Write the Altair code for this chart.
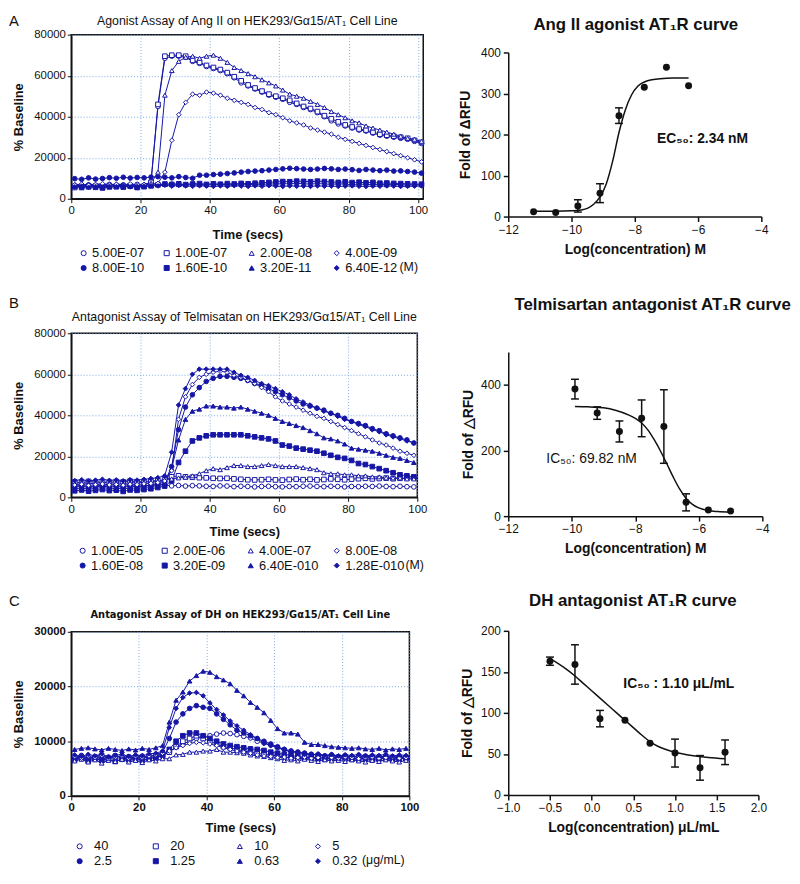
import altair as alt
import pandas as pd

FONT = "Liberation Sans"
WIDE = "DejaVu Sans"
BLUE = "#1616a6"
GRID = "#7aaae6"
BLACK = "#111111"

SHAPES = ["circle", "square", "triangle-up", "diamond"] * 2
FILLS = ["#ffffff"] * 4 + [BLUE] * 4

# ---------------- Panel A (left): agonist Ang II time courses ----------------
A_TIME = list(range(1, 102, 2))
A_LABELS = ["5.00E-07", "1.00E-07", "2.00E-08", "4.00E-09",
            "8.00E-10", "1.60E-10", "3.20E-11", "6.40E-12"]
A_5E07 = [6500, 6000, 6800, 6200, 6500, 7000, 6300, 6800, 6500, 7000, 6600, 8500,
          45000, 68500, 69500, 69500, 69000, 67000, 66000, 64500, 63500, 62500,
          61000, 59000, 56500, 55000, 53500, 52000, 50500, 49500, 48500, 47000,
          46000, 44500, 43500, 42000, 40000, 38000, 36500, 35500, 34500, 33500,
          33000, 32000, 31000, 30500, 30000, 29500, 29000, 28000, 27000]
A_1E07 = [5500, 6000, 5800, 6200, 5600, 6300, 5900, 6100, 6400, 5800, 6200, 8000,
          46000, 69500, 70000, 70000, 69500, 67500, 66500, 65000, 64000, 63000,
          61500, 59500, 57500, 55500, 54000, 52500, 51000, 50000, 49000, 48000,
          46500, 45000, 44000, 42500, 40500, 39000, 37500, 36000, 35000, 34000,
          33500, 32500, 31500, 31000, 30500, 30000, 29500, 28500, 27500]
A_2E08 = [7000, 6500, 7200, 6800, 7000, 6600, 7300, 6900, 7100, 6700, 7000, 7500,
          13000, 50500, 62500, 67000, 69000, 69500, 68500, 69500, 70000, 68500,
          66500, 64000, 62500, 61000, 59500, 58000, 56500, 55000, 53000, 51000,
          50000, 49000, 47500, 46000, 44500, 42500, 41000, 39500, 38000, 37000,
          35500, 34500, 33500, 32500, 31500, 30500, 29500, 29000, 28000]
A_4E09 = [6800, 7200, 6600, 7000, 7400, 6900, 7100, 6700, 7300, 6800, 7000, 7200, 7500,
          13000, 28500, 41000, 47000, 51000, 50500, 52000, 51500, 50500, 49000,
          48000, 47000, 46000, 44500, 43500, 42000, 41000, 39500, 38000, 37000,
          36000, 34500, 33500, 32500, 31500, 30000, 29000, 28000, 27000, 26000,
          25000, 24000, 23000, 22000, 21000, 20000, 19000, 18000]
A_8E10 = [9800, 9500, 10200, 9600, 9900, 10300, 10000, 10500, 10100, 10400, 10200, 10600,
          10800, 10500, 10200, 10800, 10400, 10000, 11500, 11500, 11800, 12000,
          12300, 12600, 13000, 13300, 13500, 13700, 14000, 14300, 14600, 14900,
          14700, 14500, 14300, 14500, 14800, 14600, 14300, 14500, 14200, 13800,
          14300, 14000, 13700, 14000, 13500, 13600, 13300, 13000, 12500]
A_16E10 = [6000, 5500, 6200, 5600, 5300, 5800, 6000, 5700, 6200, 5500, 5900, 6300,
           6800, 7200, 7000, 7300, 6900, 7200, 7400, 7000, 7300, 7100, 7400, 7200, 7500,
           7300, 7600, 7800, 8000, 8200, 8400, 8300, 8600, 8500, 8300, 8600, 8400, 8200,
           8000, 8300, 7900, 8100, 7800, 8000, 7600, 7700, 7500, 7400, 7300, 7200, 7100]
A_32E11 = [6800, 6300, 7000, 6500, 6200, 6700, 6900, 6400, 6800, 6300, 6600, 7000,
           7200, 7000, 7400, 6900, 7100, 7300, 6900, 7200, 7000, 7100, 6800, 7000, 7200,
           6900, 7100, 7000, 7300, 7100, 7400, 7200, 7500, 7300, 7100, 7400, 7200, 7000,
           7300, 7100, 6900, 7200, 7000, 6900, 7100, 6800, 7000, 6900, 6700, 6900, 6800]
A_64E12 = [5800, 6200, 5600, 6000, 5700, 6100, 5900, 6300, 5800, 6000, 6200, 6400,
           6300, 6600, 6200, 6500, 6300, 6100, 6400, 6200, 6000, 6300, 6100, 6400, 6200,
           6000, 6300, 6100, 6400, 6200, 6000, 6300, 6100, 6200, 6000, 6300, 6100, 6200,
           6000, 6200, 6300, 6100, 6000, 6200, 6100, 6300, 6200, 6000, 6100, 6200, 6300]

# ---------------- Panel B (left): Telmisartan antagonist time courses ----------------
BC_TIME = list(range(1, 100, 2))
B_LABELS = ["1.00E-05", "2.00E-06", "4.00E-07", "8.00E-08",
            "1.60E-08", "3.20E-09", "6.40E-010", "1.28E-010"]
B_1E05 = [5500, 5800, 5200, 5600, 5900, 5400, 5700, 5300, 5800, 5500, 5600, 5900, 6200, 6000,
          5600, 5800, 5500, 5700, 5600, 5400, 5300, 5600, 5500, 5200, 5400, 5300,
          5100, 5300, 5400, 5200, 5100, 5300, 5200, 5400, 5500, 5300, 5200, 5400,
          5300, 5100, 5300, 5200, 5400, 5300, 5500, 5300, 5200, 5400, 5200, 5100]
B_2E06 = [7500, 7200, 7800, 7400, 7600, 7300, 7700, 7500, 7900, 7600, 7800, 8000, 8200, 8500,
          10000, 10500, 10000, 9800, 9600, 9500, 9300, 9200, 9300, 9000, 8800, 8600,
          8500, 8600, 8800, 8500, 8400, 8700, 8900, 8600, 8800, 8500, 8700, 9000,
          8800, 8600, 8900, 9100, 9300, 9000, 9200, 9400, 9100, 9300, 9400, 9500]
B_4E07 = [6800, 7200, 6600, 7000, 7300, 6900, 7100, 6700, 7200, 7000, 7400, 7600, 8000, 8500,
          9000, 9500, 9800, 10500, 11500, 13000, 14000, 13500, 14500, 15500,
          15500, 15000, 15000, 15500, 16000, 15500, 15000, 15000, 15000, 14500,
          14000, 13500, 12000, 11500, 11500, 11000, 11000, 10500, 10500, 10000,
          10000, 9500, 9500, 9500, 9000, 9000]
B_8E08 = [6000, 6400, 5800, 6200, 6500, 6100, 6300, 5900, 6400, 6200, 6600, 6800, 7200, 8000,
          13000, 38000, 49000, 55000, 58500, 60000, 61000, 61500, 61000, 59500,
          58500, 57000, 55500, 53500, 51500, 49000, 47000, 45500, 44000, 42500,
          41000, 39500, 38500, 37000, 35500, 34000, 32500, 31000, 29500, 28000,
          26500, 25500, 24000, 22500, 21500, 20500]
B_16E08 = [5000, 5400, 4800, 5200, 5500, 5000, 5300, 4900, 5400, 5100, 5600, 5800, 6500, 7500,
           15000, 33000, 44000, 50000, 53500, 56500, 58000, 59000, 59000, 58500,
           58000, 57000, 55500, 54500, 53000, 51500, 50000, 48500, 47000, 45500,
           44500, 43500, 42500, 41000, 40000, 38500, 37000, 36000, 35000, 33500,
           32500, 31000, 30000, 29000, 28000, 26500]
B_32E09 = [3200, 3600, 3000, 3400, 3800, 3300, 3500, 2900, 3600, 3400, 3800, 4200, 4800, 5500,
           8000, 17000, 22500, 27500, 29000, 30000, 30500, 30500, 30500, 30500,
           30500, 30000, 29500, 29000, 28500, 27500, 25500, 25000, 24000, 23500,
           23000, 22500, 21500, 20500, 19500, 19000, 18000, 16500, 16000, 15000,
           14000, 13000, 12000, 11000, 10500, 10000]
B_64E10 = [4200, 4600, 4000, 4400, 4800, 4300, 4500, 4100, 4600, 4400, 4800, 5200, 5800, 6500,
           14000, 28000, 38000, 42000, 43000, 44500, 44500, 44000, 44000, 43500,
           44000, 43000, 42000, 41000, 40000, 38500, 37000, 36000, 35000, 34000,
           32500, 31000, 29000, 28500, 27500, 26000, 24000, 23500, 23000, 22500,
           21500, 20500, 19500, 19000, 18000, 17000]
B_128E10 = [8200, 8600, 8000, 8400, 8800, 8300, 8500, 8100, 8600, 8400, 8800, 9200, 9600, 10500,
            22000, 45000, 53000, 60000, 62500, 62500, 62500, 62500, 62500, 61000,
            59500, 58500, 57000, 55500, 54500, 53000, 51500, 50000, 48000, 46500,
            45000, 43500, 42000, 41000, 39500, 38000, 37000, 35500, 34500, 33000,
            32000, 30500, 29500, 28500, 27500, 26500]

# ---------------- Panel C (left): DH antagonist time courses ----------------
C_LABELS = ["40", "20", "10", "5", "2.5", "1.25", "0.63", "0.32"]
C_40 = [7000, 7400, 6800, 7200, 7500, 6900, 7300, 7100, 6700, 7200, 7000, 7400, 7300, 7600,
        8000, 9000, 9500, 10000, 10500, 10800, 11000, 11300, 11500, 11400,
        11200, 10900, 10600, 10000, 9700, 9300, 8800, 8500, 8200, 8000,
        7800, 7600, 7500, 7300, 7500, 7200, 7400, 7100, 7300, 7000,
        7200, 7100, 7300, 7000, 7200, 7100]
C_20 = [6800, 7100, 6600, 7000, 6500, 6900, 7200, 6700, 7000, 6600, 6900, 7100, 7000, 7400,
        8000, 9000, 10000, 10500, 11000, 10500, 10000, 9500, 9000, 8800,
        8500, 8200, 8000, 7800, 7600, 7500, 7300, 7100, 7000, 6800,
        6900, 7000, 6800, 6700, 6900, 7000, 6800, 6700, 6900, 6800,
        6600, 6800, 6900, 6700, 6800, 6900]
C_10 = [6400, 6700, 6200, 6600, 6000, 6500, 6300, 6700, 6200, 6500, 6100, 6600, 6400, 6800,
        6800, 7500, 7600, 8000, 8000, 8200, 8200, 8500, 8000, 8000,
        7900, 7800, 7500, 7300, 7200, 7000, 6800, 6500, 6600, 6400,
        6700, 6500, 6300, 6600, 6400, 6500, 6300, 6600, 6400, 6200,
        6500, 6300, 6600, 6400, 6200, 6500]
C_5 = [7200, 6900, 7300, 7000, 7400, 6800, 7100, 7300, 6900, 7200, 7000, 7300, 7500, 7800,
       8200, 8800, 9200, 9600, 9800, 9700, 9500, 9200, 8800, 8500,
       8200, 8000, 7800, 7500, 7300, 7200, 7000, 7100, 6900, 7000,
       7100, 6900, 7000, 7200, 7000, 6900, 7100, 7000, 6800, 7000,
       7100, 6900, 7000, 7100, 6900, 7000]
C_25 = [7000, 7300, 6900, 7200, 6800, 7100, 7400, 7000, 7200, 6900, 7300, 7100, 7500, 8000,
        10500, 13500, 15000, 16000, 16500, 16200, 16000, 15000, 14000, 13000,
        12000, 11500, 11000, 10500, 10000, 9500, 9000, 8500, 8200, 8000,
        7800, 7600, 7500, 7300, 7400, 7200, 7300, 7100, 7200, 7300,
        7100, 7200, 7000, 7200, 7100, 7000]
C_125 = [6600, 6900, 6400, 6800, 6500, 6700, 6300, 6800, 6600, 6900, 6500, 6800, 7000, 7400,
         8500, 10000, 11000, 11500, 11500, 11000, 10500, 10000, 9500, 9200,
         9000, 8800, 8600, 8500, 8300, 8000, 7800, 7600, 7400, 7200,
         7000, 7100, 6900, 7000, 6800, 6900, 7000, 6800, 6700, 6900,
         7000, 6800, 6900, 6700, 6800, 6900]
C_063 = [8500, 8700, 8800, 8600, 8400, 8700, 8500, 8300, 8600, 8400, 8700, 8500, 8800, 9200,
         13500, 17500, 19000, 21000, 22000, 22800, 22600, 21800, 21200, 20500,
         19300, 18300, 17100, 16200, 15200, 13800, 12300, 11500, 11500, 11300,
         9800, 9400, 9400, 9200, 9000, 8900, 8800, 8700, 8800, 8600,
         8500, 8700, 8400, 8600, 8500, 8700]
C_032 = [7500, 7200, 7600, 7300, 7700, 7100, 7400, 7600, 7200, 7500, 7300, 7700, 7800, 8200,
         12500, 16000, 18000, 18800, 18900, 18300, 17000, 15800, 14800, 13700,
         12800, 12000, 11200, 10500, 9600, 9200, 8800, 8400, 8000, 7800,
         7600, 7500, 7700, 7400, 7600, 7300, 7500, 7400, 7600, 7300,
         7500, 7400, 7600, 7300, 7500, 7400]

# ---------------- Right panels: dose-response ----------------
RA_LOGC = [-11.2, -10.5, -9.8, -9.1, -8.5, -7.7, -7.0, -6.3]
RA_FOLD = [12, 10, 26, 57, 246, 315, 364, 319]
RA_ERR = [0, 0, 15, 23, 19, 0, 0, 0]
RA_CURVE_X = [-11.2, -10.5, -10.0, -9.7, -9.5, -9.3, -9.1, -8.9, -8.7, -8.5,
              -8.3, -8.1, -7.9, -7.6, -7.2, -6.8, -6.3]
RA_CURVE_Y = [13, 13, 14, 16, 20, 30, 48, 80, 135, 205, 260, 297, 318, 331, 336, 338, 338]

RB_LOGC = [-9.9, -9.2, -8.5, -7.8, -7.1, -6.4, -5.7, -5.0]
RB_FOLD = [387, 314, 258, 298, 273, 42, 19, 16]
RB_ERR = [30, 19, 32, 56, 112, 26, 0, 0]
RB_CURVE_X = [-9.9, -9.5, -9.0, -8.6, -8.2, -8.0, -7.8, -7.6, -7.4, -7.2,
              -7.0, -6.8, -6.6, -6.4, -6.2, -6.0, -5.7, -5.4, -5.0]
RB_CURVE_Y = [334, 333, 330, 322, 308, 298, 284, 262, 232, 197,
              158, 118, 82, 54, 36, 25, 17, 14, 12]

RC_LOGC = [-0.5, -0.2, 0.1, 0.4, 0.7, 1.0, 1.3, 1.6]
RC_FOLD = [163, 159, 93, 91, 63, 51, 33, 52]
RC_ERR = [5, 24, 10, 0, 0, 17, 15, 15]
RC_CURVE_X = [-0.5, -0.4, -0.3, -0.2, -0.1, 0.0, 0.1, 0.2, 0.3, 0.4,
              0.5, 0.6, 0.7, 0.8, 0.9, 1.0, 1.2, 1.4, 1.6]
RC_CURVE_Y = [166, 160, 153, 145, 136, 127, 118, 109, 100, 91,
              82, 73, 65, 59, 55, 52, 48, 45.5, 44]

IND = dict(shape="independent", fill="independent", stroke="independent")


def long_df(times, labels, series):
    rows = []
    for lab, vals in zip(labels, series):
        assert len(vals) == len(times), (lab, len(vals), len(times))
        for t, v in zip(times, vals):
            rows.append({"t": t, "v": v, "s": lab})
    return pd.DataFrame(rows)


def text_layer(text, x, y, size, weight="normal", align="center", font=FONT):
    return alt.Chart(pd.DataFrame({"txt": [text]})).mark_text(
        fontSize=size, fontWeight=weight, font=font, align=align,
        baseline="middle", color=BLACK
    ).encode(text="txt:N", x=alt.value(x), y=alt.value(y))


def time_panel(df, labels, width, height, xmax, ymax, gstep, lstep, title, title_y,
               title_font, title_size, title_weight, letter, letter_y, unit, unit_x,
               xtitle_y, leg_xs, leg_y, label_off, tick_weight):
    xs = alt.Scale(domain=[0, xmax], nice=False, zero=False)
    ys = alt.Scale(domain=[0, ymax], nice=False)
    common = dict(labelFlush=False, grid=True, gridColor=GRID, gridDash=[1, 2],
                  gridWidth=1, gridOpacity=1, domainColor=BLACK, domainWidth=1.5,
                  tickColor=BLACK, tickSize=4, tickWidth=1, labelFont=FONT,
                  labelFontSize=11.5, labelColor=BLACK, labelFontWeight=tick_weight,
                  titleFont=FONT, titleFontSize=13, titleFontWeight="bold",
                  titleColor=BLACK)
    xaxis = alt.Axis(values=list(range(0, 101, 10)), title="Time (secs)",
                     titleY=xtitle_y, titleBaseline="middle", labelPadding=2, **common)
    yaxis = alt.Axis(values=list(range(0, ymax + 1, gstep)), format="d",
                     labelExpr=f"datum.value % {lstep} == 0 ? datum.label : ''",
                     title="% Baseline", titleX=-53, titleBaseline="middle",
                     labelPadding=2, **common)
    base = alt.Chart(df)
    lines = base.mark_line(color=BLUE, strokeWidth=1).encode(
        x=alt.X("t:Q", scale=xs, axis=xaxis),
        y=alt.Y("v:Q", scale=ys, axis=yaxis),
        detail="s:N",
    )
    point_layers = []
    for col in range(4):
        sub = [labels[col], labels[col + 4]]
        leg = alt.Legend(title=None, orient="none", legendX=leg_xs[col], legendY=leg_y,
                         direction="vertical", padding=0, rowPadding=1,
                         labelFont=FONT, labelFontSize=13, labelColor=BLACK,
                         labelOffset=label_off, symbolSize=26, symbolStrokeWidth=1,
                         labelLimit=200)
        point_layers.append(
            base.transform_filter(alt.FieldOneOfPredicate(field="s", oneOf=sub))
            .mark_point(filled=True, strokeWidth=1, opacity=1, size=22)
            .encode(
                x="t:Q",
                y="v:Q",
                shape=alt.Shape("s:N", scale=alt.Scale(domain=sub, range=[SHAPES[col], SHAPES[col + 4]]), legend=leg),
                fill=alt.Fill("s:N", scale=alt.Scale(domain=sub, range=[FILLS[col], FILLS[col + 4]]), legend=leg),
                stroke=alt.Stroke("s:N", scale=alt.Scale(domain=sub, range=[BLUE, BLUE]), legend=leg),
            )
        )
    layers = [lines] + point_layers + [
        text_layer(title, width / 2, title_y, title_size, title_weight, font=title_font),
        text_layer(letter, -63, letter_y, 15, align="left"),
        text_layer(unit, unit_x, leg_y + 20.5, 12.5, align="left"),
    ]
    return alt.layer(*layers).resolve_scale(**IND).resolve_legend(**IND).properties(
        width=width, height=height,
        view=alt.ViewBackground(stroke=BLACK, strokeWidth=1.5),
    )


def dose_panel(logc, fold, err, cx, cy, width, height, xdom, xvals, xfmt, ydom, yvals,
               xtitle, ytitle, title, title_x, title_y, note, note_x, note_y,
               note_weight, ytitle_x):
    pts_df = pd.DataFrame({"x": logc, "y": fold, "e": err})
    pts_df["lo"] = pts_df["y"] - pts_df["e"]
    pts_df["hi"] = pts_df["y"] + pts_df["e"]
    err_df = pts_df[pts_df["e"] > 0]
    caps_df = pd.concat([
        pd.DataFrame({"x": err_df["x"], "c": err_df["lo"]}),
        pd.DataFrame({"x": err_df["x"], "c": err_df["hi"]}),
    ])
    curve_df = pd.DataFrame({"x": cx, "y": cy})
    note_df = pd.DataFrame({"x": [note_x], "y": [note_y], "txt": [note]})

    common = dict(labelFlush=False, grid=False, domainColor=BLACK, domainWidth=1.5,
                  tickColor=BLACK, tickWidth=1.5, tickSize=5, labelFont=FONT,
                  labelFontSize=12, labelColor=BLACK, titleFont=FONT,
                  titleFontSize=14, titleFontWeight="bold", titleColor=BLACK,
                  labelPadding=3)
    xaxis = alt.Axis(values=xvals, format=xfmt, title=xtitle, titleY=33,
                     titleBaseline="middle", **common)
    yaxis = alt.Axis(values=yvals, format="d", title=ytitle, titleX=ytitle_x,
                     titleBaseline="middle", **common)
    xs = alt.Scale(domain=xdom, nice=False, zero=False)
    ys = alt.Scale(domain=ydom, nice=False)

    curve = alt.Chart(curve_df).mark_line(interpolate="monotone", color=BLACK,
                                          strokeWidth=1.5).encode(
        x=alt.X("x:Q", scale=xs, axis=xaxis), y=alt.Y("y:Q", scale=ys, axis=yaxis))
    bars = alt.Chart(err_df).mark_rule(color=BLACK, strokeWidth=1.5).encode(
        x="x:Q", y="lo:Q", y2="hi:Q")
    caps = alt.Chart(caps_df).mark_tick(orient="horizontal", color=BLACK, size=8,
                                        thickness=1.5, opacity=1).encode(
        x="x:Q", y="c:Q")
    dots = alt.Chart(pts_df).mark_circle(color=BLACK, size=50, opacity=1).encode(
        x="x:Q", y="y:Q")
    note_l = alt.Chart(note_df).mark_text(align="left", baseline="middle", font=FONT,
                                          fontSize=14, fontWeight=note_weight,
                                          color=BLACK).encode(
        x="x:Q", y="y:Q", text="txt:N")
    head = text_layer(title, title_x, title_y, 17, "bold")
    return alt.layer(curve, bars, caps, dots, note_l, head).properties(
        width=width, height=height,
        view=alt.ViewBackground(stroke="transparent"),
    )


def spacer(h):
    return alt.Chart(pd.DataFrame({"z": [0]})).mark_point(opacity=0).encode(
        x=alt.X("z:Q", axis=None), y=alt.Y("z:Q", axis=None)
    ).properties(width=1, height=h, view=alt.ViewBackground(stroke="transparent"))


dfA = long_df(A_TIME, A_LABELS, [A_5E07, A_1E07, A_2E08, A_4E09, A_8E10, A_16E10, A_32E11, A_64E12])
dfB = long_df(BC_TIME, B_LABELS, [B_1E05, B_2E06, B_4E07, B_8E08, B_16E08, B_32E09, B_64E10, B_128E10])
dfC = long_df(BC_TIME, C_LABELS, [C_40, C_20, C_10, C_5, C_25, C_125, C_063, C_032])

H = 166
pA = time_panel(dfA, A_LABELS, 356, H, 101.5, 80000, 10000, 20000,
                "Agonist Assay of Ang II on HEK293/G\u03b115/AT\u2081 Cell Line", -14,
                FONT, 12.5, "normal", "A", -14, "(M)", 332, 36,
                [6, 90, 176, 262], H + 48.5, 2, "normal")
pB = time_panel(dfB, B_LABELS, 350, H, 100, 80000, 10000, 20000,
                "Antagonist Assay of Telmisatan on HEK293/G\u03b115/AT\u2081 Cell Line", -16,
                FONT, 12.5, "normal", "B", -31, "(M)", 338, 35,
                [5, 88, 175, 262], H + 47.5, 2, "normal")
pC = time_panel(dfC, C_LABELS, 342, H, 100, 30000, 5000, 5000,
                "Antagonist Assay of DH on HEK293/G\u03b115/AT\u2081 Cell Line", -17,
                WIDE, 10, "bold", "C", -31, "(\u03bcg/mL)", 294, 32,
                [2, 79, 164, 243], H + 44.5, 8, "bold")

rA = dose_panel(RA_LOGC, RA_FOLD, RA_ERR, RA_CURVE_X, RA_CURVE_Y, 256, H,
                [-12, -4], [-12, -10, -8, -6, -4], "d", [0, 400], [0, 100, 200, 300, 400],
                "Log(concentration) M", "Fold of \u0394RFU",
                "Ang II agonist AT\u2081R curve", 129, -28,
                "EC\u2085\u2080: 2.34 nM", -7.3, 188, "bold", -43)
rB = dose_panel(RB_LOGC, RB_FOLD, RB_ERR, RB_CURVE_X, RB_CURVE_Y, 257, H,
                [-12, -4], [-12, -10, -8, -6, -4], "d", [0, 500], [0, 100, 200, 300, 400, 500],
                "Log(concentration) M", "Fold of \u25b3RFU",
                "Telmisartan antagonist AT\u2081R curve", 146, -48,
                "IC\u2085\u2080: 69.82 nM", -10.8, 174, "normal", -40)
rC = dose_panel(RC_LOGC, RC_FOLD, RC_ERR, RC_CURVE_X, RC_CURVE_Y, 253, H,
                [-1, 2], [-1.0, -0.5, 0.0, 0.5, 1.0, 1.5, 2.0], ".1f", [0, 200], [0, 50, 100, 150, 200],
                "Log(concentration) \u03bcL/mL", "Fold of \u25b3RFU",
                "DH antagonist AT\u2081R curve", 126, -30,
                "IC\u2085\u2080 : 1.10 \u03bcL/mL", 0.38, 135, "bold", -41)

left_col = alt.vconcat(pA, pB, pC, spacing=136, bounds="flush").resolve_scale(
    **IND).resolve_legend(**IND)

right_col = alt.vconcat(spacer(18), rA, spacer(137), rB, spacer(116), rC,
                        spacing=0, bounds="flush")

chart = alt.hconcat(left_col, right_col, spacing=29).resolve_scale(
    **IND).resolve_legend(**IND).properties(padding=0, background="white")

chart.save("out.html", embed_options={"renderer": "svg", "actions": False})
